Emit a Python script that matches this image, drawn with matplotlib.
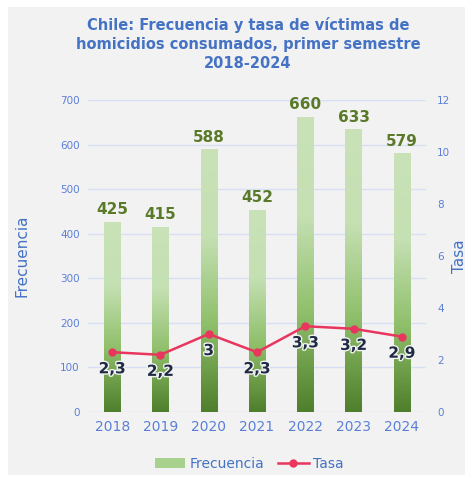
import numpy as np
import matplotlib
matplotlib.use("Agg")
import matplotlib.pyplot as plt
import matplotlib.patheffects as pe
from matplotlib.colors import LinearSegmentedColormap
from matplotlib.patches import Rectangle, Patch
from matplotlib.lines import Line2D

# ── Data ──────────────────────────────────────────────────────────────────────
years = ["2018", "2019", "2020", "2021", "2022", "2023", "2024"]
frecuencia = [425, 415, 588, 452, 660, 633, 579]
tasa = [2.3, 2.2, 3.0, 2.3, 3.3, 3.2, 2.9]
tasa_labels = ["2,3", "2,2", "3", "2,3", "3,3", "3,2", "2,9"]

BLUE = "#4472c4"
TICK_BLUE = "#5b7fd6"
GRID = "#d6e0f5"
RED = "#e8365e"
BAR_TXT = "#5a7a2a"

fig = plt.figure(figsize=(4.72, 4.78), dpi=100)
fig.patch.set_facecolor("white")
fig.patches.append(Rectangle((8 / 472, 3 / 478), 457 / 472, 468 / 478,
                             transform=fig.transFigure, facecolor="#f2f2f2",
                             edgecolor="none", zorder=-10))

ax = fig.add_axes([88 / 472, 1 - 412 / 478, 338 / 472, 312 / 478])
ax.set_facecolor("none")
ax2 = ax.twinx()

x = np.arange(len(years))
w = 0.34
cmap = LinearSegmentedColormap.from_list("g", ["#4f7f2c", "#8fbf6a", "#c5e0b3", "#c9e2b8"])
grad = np.linspace(0, 1, 256).reshape(-1, 1)
for xi, v in zip(x, frecuencia):
    ax.imshow(grad, cmap=cmap, aspect="auto", origin="lower",
              extent=(xi - w / 2, xi + w / 2, 0, v), zorder=2)
    ax.text(xi, v + 12, str(v), ha="center", va="bottom", fontsize=11,
            fontweight="bold", color=BAR_TXT, zorder=4)

ax.set_xlim(-0.5, len(years) - 0.5)
ax.set_ylim(0, 700)
ax.set_yticks(range(0, 701, 100))
ax.set_xticks(x)
ax.set_xticklabels(years, fontsize=10, color=TICK_BLUE)
ax.tick_params(axis="y", labelsize=7.5, colors=TICK_BLUE, length=0, pad=6)
ax.tick_params(axis="x", length=0, pad=6)
ax.grid(axis="y", color=GRID, linewidth=1)
ax.set_axisbelow(True)
for s in ax.spines.values():
    s.set_visible(False)
for s in ax2.spines.values():
    s.set_visible(False)
ax.set_ylabel("Frecuencia", fontsize=11, color=BLUE, labelpad=22)

ax2.plot(x, tasa, color=RED, linewidth=1.8, marker="o", markersize=5, zorder=5)
for xi, t, lab in zip(x, tasa, tasa_labels):
    ax2.text(xi, t - 0.35, lab, ha="center", va="top", fontsize=11,
             fontweight="bold", color="#1f2a44", zorder=6,
             path_effects=[pe.withStroke(linewidth=2, foreground="#f2f2f2")])
ax2.set_ylim(0, 12)
ax2.set_yticks(range(0, 13, 2))
ax2.tick_params(axis="y", labelsize=7.5, colors=TICK_BLUE, length=0, pad=8)
ax2.set_ylabel("Tasa", fontsize=11, color=BLUE, labelpad=1)

fig.text(248 / 472, 1 - 44 / 478, "Chile: Frecuencia y tasa de víctimas de\nhomicidios consumados, primer semestre\n2018-2024",
         ha="center", va="center", fontsize=10.5, fontweight="bold", color=BLUE,
         linespacing=1.3)

handles = [Patch(facecolor="#a9d18e", edgecolor="none"),
           Line2D([0], [0], color=RED, linewidth=1.8, marker="o", markersize=5)]
fig.legend(handles, ["Frecuencia", "Tasa"], loc="center", bbox_to_anchor=(249 / 472, 1 - 464 / 478),
           ncol=2, frameon=False, fontsize=10, labelcolor=BLUE, handlelength=2.2,
           handletextpad=0.3, columnspacing=1.0)

fig.savefig("out.png", dpi=100)
